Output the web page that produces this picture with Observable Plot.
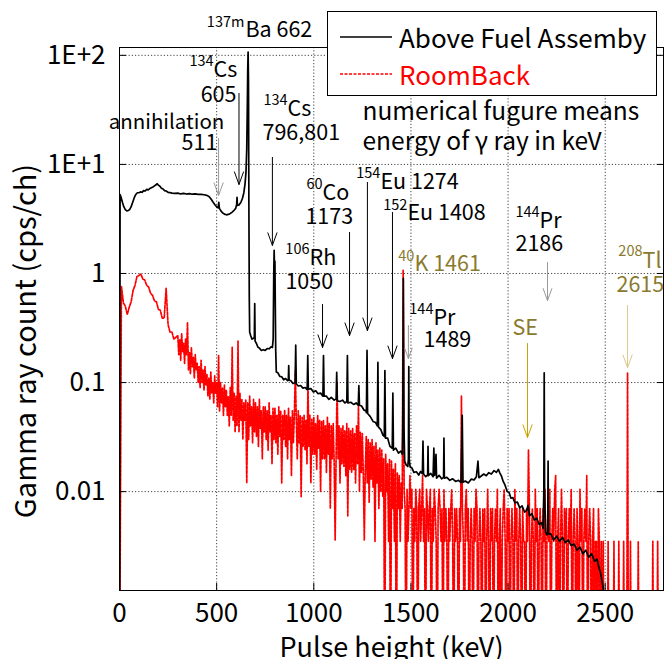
<!DOCTYPE html>
<html>
<head>
<meta charset="utf-8">
<script src="https://cdn.jsdelivr.net/npm/d3@7"></script>
<script src="https://cdn.jsdelivr.net/npm/@observablehq/plot@0.6"></script>
<style>
  body { margin: 0; background: #fff; }
  #wrap { position: relative; width: 665px; height: 659px; overflow: hidden; font-family: "Noto Sans CJK JP", "Noto Sans", sans-serif; }
  #legend { position: absolute; left: 327px; top: 11px; width: 330px; height: 85px; border: 1.5px solid #000; background: #fff; box-sizing: border-box; }
  #legend svg { position: absolute; left: 0; top: 0; }
  .lt { position: absolute; left: 71px; transform: translateY(-50%); font-size: 26px; line-height: 1; white-space: nowrap; }
</style>
</head>
<body>
<div id="wrap"></div>
<script>
// ---------- axes ----------
const xTicks = [0, 500, 1000, 1500, 2000, 2500];
const xGrid = [500, 1000, 1500, 2000, 2500];
const yTicks = [100, 10, 1, 0.1, 0.01];
const yTickLabels = ["1E+2", "1E+1", "1", "0.1", "0.01"];
const seriesNames = ["Above Fuel Assemby", "RoomBack"];
const xTitle = "Pulse height (keV)";
const yTitle = "Gamma ray count (cps/ch)";

// ---------- Above Fuel Assembly spectrum: [keV, cps/ch] ----------
const fuelPoints = [[0,0],[3,5.3],[8,5.0],[15,4.5],[22,4.1],[30,3.85],[38,3.75],[45,3.78],[52,3.85],[60,4.1],[68,4.5],[76,4.95],[84,5.3],[92,5.5],[100,5.5],[108,5.6],[116,5.55],[124,5.75],[132,5.7],[140,5.9],[148,5.85],[156,6.0],[164,6.1],[172,6.2],[180,6.35],[188,6.5],[194,6.65],[200,6.45],[208,6.3],[216,6.05],[224,5.95],[232,5.75],[240,5.7],[250,5.55],[260,5.52],[270,5.45],[285,5.42],[300,5.45],[315,5.36],[330,5.42],[345,5.35],[360,5.4],[375,5.33],[390,5.37],[405,5.31],[420,5.32],[435,5.27],[450,5.2],[462,5.05],[472,4.8],[482,4.5],[492,4.25],[502,4.05],[508,4.0],[511,4.5],[514,3.95],[522,3.75],[530,3.6],[540,3.5],[550,3.45],[560,3.48],[570,3.55],[580,3.65],[590,3.8],[598,3.95],[603,4.3],[605,5.0],[607,4.2],[615,4.25],[625,4.5],[633,4.9],[640,5.5],[646,6.6],[651,8.5],[655,14],[658,35],[660,75],[662,107],[664,55],[666,4],[668,0.6],[670,0.29],[675,0.27],[682,0.25],[690,0.255],[694,0.26],[696,0.53],[698,0.24],[705,0.228],[712,0.212],[720,0.207],[730,0.197],[740,0.2],[750,0.197],[760,0.205],[770,0.204],[780,0.212],[787,0.21],[791,0.25],[794,1.0],[796,1.63],[798,1.1],[800,1.3],[802,0.5],[804,0.2],[807,0.125],[815,0.123],[825,0.114],[835,0.113],[845,0.106],[855,0.109],[865,0.104],[869,0.106],[871,0.143],[873,0.105],[882,0.104],[893,0.098],[904,0.1],[907,0.22],[910,0.097],[920,0.093],[932,0.094],[944,0.089],[956,0.09],[966,0.086],[969,0.177],[972,0.087],[985,0.088],[998,0.082],[1010,0.084],[1022,0.079],[1035,0.08],[1047,0.075],[1050,0.177],[1053,0.075],[1065,0.075],[1078,0.07],[1090,0.073],[1105,0.069],[1115,0.071],[1118,0.124],[1121,0.068],[1135,0.067],[1148,0.069],[1160,0.065],[1170,0.067],[1173,0.177],[1176,0.065],[1190,0.066],[1205,0.063],[1218,0.065],[1229,0.062],[1232,0.094],[1235,0.062],[1246,0.061],[1258,0.056],[1268,0.055],[1271,0.053],[1274,0.197],[1277,0.052],[1290,0.049],[1305,0.044],[1318,0.043],[1327,0.04],[1330,0.153],[1333,0.039],[1345,0.037],[1356,0.033],[1363,0.032],[1366,0.129],[1369,0.031],[1380,0.031],[1392,0.026],[1404,0.025],[1407,0.08],[1410,0.024],[1422,0.025],[1436,0.0225],[1448,0.0235],[1456,0.022],[1458,0.04],[1461,0.9],[1464,0.04],[1468,0.019],[1476,0.0175],[1484,0.017],[1487,0.02],[1489,0.14],[1491,0.02],[1496,0.0168],[1505,0.0165],[1515,0.015],[1528,0.0152],[1540,0.0142],[1550,0.0153],[1559,0.0146],[1562,0.029],[1565,0.0145],[1576,0.0137],[1586,0.0142],[1588,0.026],[1590,0.014],[1602,0.0147],[1614,0.0137],[1618,0.025],[1622,0.0141],[1629,0.022],[1632,0.0133],[1645,0.0141],[1658,0.0131],[1668,0.0135],[1670,0.031],[1672,0.0133],[1685,0.0135],[1700,0.0127],[1715,0.0131],[1730,0.0124],[1745,0.0127],[1758,0.0121],[1764,0.05],[1768,0.0122],[1780,0.0125],[1795,0.012],[1810,0.013],[1825,0.0128],[1837,0.0137],[1845,0.019],[1850,0.0134],[1862,0.0139],[1875,0.0145],[1888,0.014],[1900,0.0149],[1914,0.0145],[1928,0.0156],[1940,0.015],[1950,0.016],[1958,0.0148],[1966,0.0139],[1975,0.0124],[1985,0.0114],[1995,0.0101],[2005,0.0098],[2015,0.0087],[2025,0.0088],[2035,0.0079],[2048,0.008],[2060,0.0071],[2072,0.0074],[2085,0.0065],[2095,0.0067],[2103,0.0075],[2110,0.006],[2122,0.0063],[2135,0.0055],[2148,0.0057],[2160,0.005],[2172,0.0052],[2180,0.0046],[2184,0.01],[2186,0.123],[2188,0.01],[2193,0.0043],[2200,0.004],[2204,0.0043],[2206,0.019],[2208,0.0041],[2220,0.0041],[2235,0.0036],[2250,0.0039],[2265,0.0035],[2280,0.0038],[2295,0.0034],[2310,0.0036],[2325,0.0032],[2340,0.0033],[2355,0.0029],[2370,0.0031],[2385,0.0027],[2400,0.0029],[2415,0.0025],[2430,0.0027],[2445,0.0023],[2458,0.0024],[2468,0.002],[2476,0.0018],[2484,0.0015],[2490,0.0013],[2494,0]];

// ---------- RoomBack spectrum (cps/ch), on channel grids ----------
const roomLowStart = 0, roomLowStep = 10;   // 0 .. 290 keV
const roomLowCps = [0,0.76,0.54,0.5,0.42,0.49,0.55,0.7,0.78,0.94,0.96,0.99,0.89,0.87,0.78,0.75,0.66,0.63,0.56,0.55,0.47,0.46,0.39,0.39,0.73,0.34,0.29,0.29,0.25,0.26];
const roomMidStart = 300, roomMidStep = 5;  // 300 .. 1450 keV
const roomMidCps = [
 0.27,0.18,0.25,0.16,0.28,0.19,0.23,0.15,0.25,0.18,
 0.355,0.13,0.19,0.12,0.21,0.14,0.17,0.11,0.18,0.13,
 0.15,0.1,0.14,0.09,0.16,0.1,0.13,0.085,0.14,0.095,
 0.12,0.075,0.11,0.07,0.125,0.08,0.1,0.065,0.115,0.08,
 0.1,0.06,0.177,0.055,0.1,0.065,0.09,0.05,0.095,0.06,
 0.085,0.05,0.075,0.04,0.09,0.05,0.21,0.045,0.08,0.035,
 0.075,0.04,0.24,0.035,0.08,0.045,0.07,0.03,0.065,0.045,
 0.07,0.012,0.065,0.03,0.075,0.04,0.06,0.028,0.07,0.035,
 0.065,0.032,0.06,0.026,0.07,0.038,0.055,0.02,0.06,0.035,
 0.06,0.03,0.055,0.024,0.065,0.035,0.05,0.018,0.058,0.03,
 0.058,0.028,0.05,0.022,0.06,0.032,0.055,0.012,0.05,0.03,
 0.056,0.026,0.05,0.02,0.058,0.03,0.048,0.014,0.055,0.028,
 0.05,0.129,0.045,0.02,0.055,0.028,0.05,0.009,0.048,0.026,
 0.05,0.024,0.045,0.018,0.1,0.026,0.05,0.012,0.046,0.022,
 0.048,0.022,0.042,0.016,0.05,0.025,0.045,0.01,0.044,0.02,
 0.045,0.02,0.04,0.015,0.048,0.022,0.042,0.007,0.04,0.02,
 0.042,0.018,0.0036,0.022,0.1,0.02,0.04,0.012,0.038,0.018,
 0.04,0.017,0.036,0.014,0.042,0.006,0.038,0.016,0.036,0.015,
 0.038,0.016,0.034,0.012,0.04,0.018,0.062,0.01,0.035,0.015,
 0.034,0.014,0.0036,0.016,0.032,0.012,0.03,0.008,0.028,0.013,
 0.03,0.011,0.026,0.0035,0.028,0.012,0.024,0.007,0.025,0.01,
 0.024,0.009,0.02,0,0.022,0.01,0.018,0.0035,0.02,0,
 0.019,0.007,0.016,0.0035,0.018,0,0.015,0.007,0.014,0.0035,
 0.012];
const roomHighStart = 1455, roomHighStep = 5; // 1455 .. 2800 keV
const roomHighCps = [
 0.007,1.07,0.0105,0.007,0,0.0105,0.0035,0.007,0.014,0.007,
 0.0105,0,0.007,0.0035,0.0105,0.007,0,0.007,0.0105,0.0035,
 0.007,0.014,0.0035,0.007,0,0.0105,0.007,0.0035,0.007,0.0105,
 0,0.007,0.0035,0.0105,0.007,0.0035,0,0.007,0.0105,0.007,
 0.0035,0.007,0,0.0105,0.0035,0.007,0.0035,0,0.007,0.0035,
 0.007,0.0105,0.0035,0,0.007,0.0035,0.007,0.0035,0,0.007,
 0.0035,0.075,0.007,0.0035,0,0.007,0.0105,0.0035,0.007,0,
 0.0035,0.007,0.0035,0,0.007,0.0035,0.0105,0.007,0,0.0035,
 0.007,0.0035,0,0.007,0.0035,0.007,0,0.0035,0.0105,0.0035,
 0,0.007,0.0035,0.007,0,0.0035,0.007,0.0035,0.0105,0,
 0.0035,0.007,0,0.0035,0.007,0.0105,0.0035,0,0.007,0.0035,
 0.007,0,0.0035,0.007,0.0035,0,0.0105,0.0035,0.007,0,
 0.0035,0.007,0.0035,0,0.007,0.0035,0.0035,0,0.007,0.0035,
 0.024,0.007,0,0.0035,0.007,0.0035,0,0.0105,0.0035,0.007,
 0,0.0035,0.007,0.0035,0,0.007,0.0035,0.0105,0,0.0035,
 0.007,0.0035,0.0105,0,0.0035,0.007,0.0035,0.0105,0.014,0,
 0.0035,0.007,0,0.0035,0.0105,0.0035,0,0.007,0.0035,0.007,
 0,0.0035,0.007,0.0035,0.0105,0,0.0035,0.007,0.0035,0,
 0.007,0.0035,0,0.0105,0.0035,0.007,0,0.0035,0.007,0.0035,
 0.014,0,0.0035,0.007,0.0035,0,0.0035,0.007,0,0.0035,
 0.0035,0,0.007,0.0035,0,0.0035,0,0.0035,0,0,
 0,0,0.0035,0,0,0,0,0,0.0035,0,
 0,0,0,0.0035,0,0,0,0,0.0035,0,
 0,0,0.123,0,0,0.0035,0,0,0,0,
 0,0,0,0.0035,0,0,0,0,0,0,
 0,0,0,0,0,0,0,0,0.0035,0,
 0,0,0,0.0035,0,0,0,0,0,0];

// ---------- annotations (positions in keV / cps) ----------
const OLIVE = "#8a7a2e";
const isotopeSymbols = [
  {t: "Ba 662", e: 648, v: 170},
  {t: "Cs", e: 484, v: 72.8},
  {t: "Cs", e: 865, v: 31.9},
  {t: "Co", e: 1045, v: 5.42},
  {t: "Eu 1274", e: 1343, v: 6.84},
  {t: "Eu 1408", e: 1482, v: 3.55},
  {t: "Rh", e: 978, v: 1.37},
  {t: "K 1461", e: 1518, v: 1.21, c: OLIVE},
  {t: "Pr", e: 1616, v: 0.386},
  {t: "Pr", e: 2162, v: 3.0},
  {t: "Tl", e: 2692, v: 1.29, c: OLIVE}
];
const isotopeMasses = [
  {t: "137m", e: 643, v: 200},
  {t: "134", e: 484, v: 88},
  {t: "134", e: 865, v: 38.6},
  {t: "60", e: 1045, v: 6.56},
  {t: "154", e: 1343, v: 8.25},
  {t: "152", e: 1482, v: 4.2},
  {t: "106", e: 978, v: 1.66},
  {t: "40", e: 1518, v: 1.43, c: OLIVE},
  {t: "144", e: 1616, v: 0.468},
  {t: "144", e: 2162, v: 3.63},
  {t: "208", e: 2692, v: 1.59, c: OLIVE}
];
const notesLeft = [
  {t: "796,801", e: 736, v: 19.2},
  {t: "1173", e: 957, v: 3.26},
  {t: "1050", e: 854, v: 0.83},
  {t: "1489", e: 1565, v: 0.243},
  {t: "2186", e: 2038, v: 1.85},
  {t: "SE", e: 2023, v: 0.313, c: OLIVE},
  {t: "2615", e: 2558, v: 0.776, c: OLIVE}
];
const notesRight = [
  {t: "605", e: 602, v: 43},
  {t: "511", e: 504, v: 15.6}
];
const notesCenter = [
  {t: "annihilation", e: 242, v: 24.3}
];
const explanation = [
  {t: "numerical fugure means", e: 1251, v: 30},
  {t: "energy of γ ray in keV", e: 1251, v: 15.9}
];
const arrows = [
  {e: 615, v1: 44.8, v2: 6.55, c: "#000"},
  {e: 510, v1: 17.3, v2: 5.2, c: "#999"},
  {e: 787, v1: 11.6, v2: 1.81, c: "#000"},
  {e: 1184, v1: 2.38, v2: 0.27, c: "#000"},
  {e: 1276, v1: 6.84, v2: 0.30, c: "#000"},
  {e: 1405, v1: 3.63, v2: 0.166, c: "#000"},
  {e: 1045, v1: 0.52, v2: 0.21, c: "#000"},
  {e: 1487, v1: 0.333, v2: 0.166, c: "#999"},
  {e: 2203, v1: 1.26, v2: 0.565, c: "#999"},
  {e: 2100, v1: 0.228, v2: 0.0314, c: "#c9a400"},
  {e: 2615, v1: 0.509, v2: 0.137, c: "#dcc88a"}
];

// ---------- build tables ----------
const fuel = fuelPoints.map(([e, cps]) => ({e, cps}));
const room = [
  ...roomLowCps.map((c, i) => ({e: roomLowStart + i * roomLowStep, cps: c})),
  ...roomMidCps.map((c, i) => ({e: roomMidStart + i * roomMidStep, cps: c})),
  ...roomHighCps.map((c, i) => ({e: roomHighStart + i * roomHighStep, cps: c}))
];
const FLOOR = 1e-4; // zero counts fall off the bottom of the log axis
const yv = d => (d.cps > 0 ? d.cps : FLOOR);
const col = d => d.c || "#000";

const FONT = '"Noto Sans CJK JP", "Noto Sans", sans-serif';
const LABEL = 21.5, SUP = 14.5;

const chart = Plot.plot({
  width: 665,
  height: 659,
  marginLeft: 119,
  marginRight: 2,
  marginTop: 47,
  marginBottom: 69,
  style: {fontFamily: FONT, background: "#fff", overflow: "visible"},
  color: {type: "identity"},
  x: {domain: [0, 2800], label: null},
  y: {type: "log", domain: [0.00124, 118], label: null},
  marks: [
    Plot.gridX(xGrid, {stroke: "#444", strokeOpacity: 1, strokeDasharray: "1.2,2"}),
    Plot.gridY(yTicks, {stroke: "#444", strokeOpacity: 1, strokeDasharray: "1.2,2"}),
    Plot.line(room, {x: "e", y: yv, stroke: "#ff0000", strokeWidth: 1.7, strokeDasharray: "3,1.4", clip: true}),
    Plot.line(fuel, {x: "e", y: yv, stroke: "#000", strokeWidth: 1.7, clip: true}),
    Plot.frame({stroke: "#000", strokeWidth: 1}),
    Plot.axisX(xTicks, {anchor: "bottom", tickSize: 0, tickPadding: 13, fontSize: 26, tickFormat: d => String(d)}),
    Plot.axisX(xTicks, {anchor: "bottom", tickSize: 7, dy: -7, text: null}),
    Plot.axisY(yTicks, {anchor: "left", tickSize: 0, tickPadding: 14, fontSize: 26, tickFormat: d => yTickLabels[yTicks.indexOf(d)]}),
    Plot.axisY(yTicks, {anchor: "left", tickSize: 7, dx: 7, text: null}),
    Plot.axisY(yTicks, {anchor: "right", tickSize: 7, dx: -7, text: null}),
    Plot.text([yTitle], {frameAnchor: "left", dx: -93, dy: 22, rotate: -90, textAnchor: "middle", lineAnchor: "middle", fontSize: 29, text: d => d, fill: "#000"}),
    Plot.text([xTitle], {frameAnchor: "bottom", dy: 58, textAnchor: "middle", lineAnchor: "middle", fontSize: 27, text: d => d, fill: "#000"}),
    Plot.arrow(arrows, {x: "e", y1: "v1", y2: "v2", stroke: "c", strokeWidth: 1, headLength: 20, headAngle: 40, insetStart: 0, insetEnd: 0}),
    Plot.text(isotopeSymbols, {x: "e", y: "v", text: "t", textAnchor: "start", fontSize: LABEL, fill: col}),
    Plot.text(isotopeMasses, {x: "e", y: "v", text: "t", textAnchor: "end", fontSize: SUP, fill: col}),
    Plot.text(notesLeft, {x: "e", y: "v", text: "t", textAnchor: "start", fontSize: LABEL, fill: col}),
    Plot.text(notesRight, {x: "e", y: "v", text: "t", textAnchor: "end", fontSize: LABEL, fill: col}),
    Plot.text(notesCenter, {x: "e", y: "v", text: "t", textAnchor: "middle", fontSize: 20.5, fill: col}),
    Plot.text(explanation, {x: "e", y: "v", text: "t", textAnchor: "start", fontSize: 24.5, fill: col})
  ]
});

const wrap = document.getElementById("wrap");
wrap.appendChild(chart);

// legend box (drawn over the top edge of the frame, as in the original)
const legend = document.createElement("div");
legend.id = "legend";
legend.innerHTML =
  '<svg width="70" height="85">' +
  '<line x1="12" x2="64" y1="25" y2="25" stroke="#000" stroke-width="1.5"/>' +
  '<line x1="12" x2="64" y1="62" y2="62" stroke="#ff0000" stroke-width="1.3" stroke-dasharray="3,1.5"/>' +
  '</svg>' +
  '<div class="lt" style="top:25px;color:#000"></div>' +
  '<div class="lt" style="top:62px;color:#ff0000"></div>';
const lts = legend.querySelectorAll(".lt");
lts[0].textContent = seriesNames[0];
lts[1].textContent = seriesNames[1];
wrap.appendChild(legend);
</script>
</body>
</html>
